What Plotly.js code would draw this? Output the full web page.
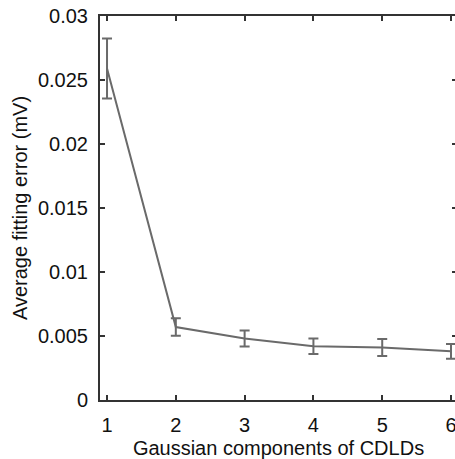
<!DOCTYPE html>
<html><head><meta charset="utf-8">
<script src="https://cdn.plot.ly/plotly-3.0.1.min.js"></script>
<style>html,body{margin:0;padding:0;overflow:hidden;background:#fff}#chart{width:460px;height:459px}</style>
</head><body><div id="chart"></div>
<script>
const components = [1, 2, 3, 4, 5, 6];
const meanError = [0.0259, 0.0057, 0.0048, 0.0042, 0.0041, 0.0038];
const stdError = [0.00235, 0.00068, 0.00063, 0.0006, 0.00066, 0.00057];
const yTicks = [0, 0.005, 0.01, 0.015, 0.02, 0.025, 0.03];
const yTickText = ['0', '0.005', '0.01', '0.015', '0.02', '0.025', '0.03'];

const trace = {
  x: components, y: meanError, type: 'scatter', mode: 'lines',
  line: {color: '#6a6a6a', width: 2},
  error_y: {type: 'data', array: stdError, visible: true, color: '#6a6a6a', thickness: 2, width: 5}
};
const fontFam = 'Liberation Sans, Arial, sans-serif';
const layout = {
  width: 460, height: 459,
  margin: {l: 100, r: 3, t: 16, b: 59},
  paper_bgcolor: '#fff', plot_bgcolor: '#fff',
  showlegend: false,
  font: {family: fontFam, size: 20, color: '#111'},
  xaxis: {
    range: [0.898, 6.087], tickvals: components, ticks: 'inside', ticklen: 5, tickwidth: 2, tickcolor: '#333',
    showline: true, linecolor: '#333', linewidth: 2, mirror: 'ticks', showgrid: false, zeroline: false,
    tickfont: {size: 20}, ticklabelstandoff: 6,
    title: {text: 'Gaussian components of CDLDs', font: {size: 20}, standoff: 7}
  },
  yaxis: {
    range: [0, 0.03], tickvals: yTicks, ticktext: yTickText, ticks: 'inside', ticklen: 5, tickwidth: 2, tickcolor: '#333',
    showline: true, linecolor: '#333', linewidth: 2, mirror: 'ticks', showgrid: false, zeroline: false,
    tickfont: {size: 20}, ticklabelstandoff: 6,
    title: {text: 'Average fitting error (mV)', font: {size: 20}, standoff: 5}
  }
};
Plotly.newPlot('chart', [trace], layout, {staticPlot: true, displayModeBar: false});
</script></body></html>
